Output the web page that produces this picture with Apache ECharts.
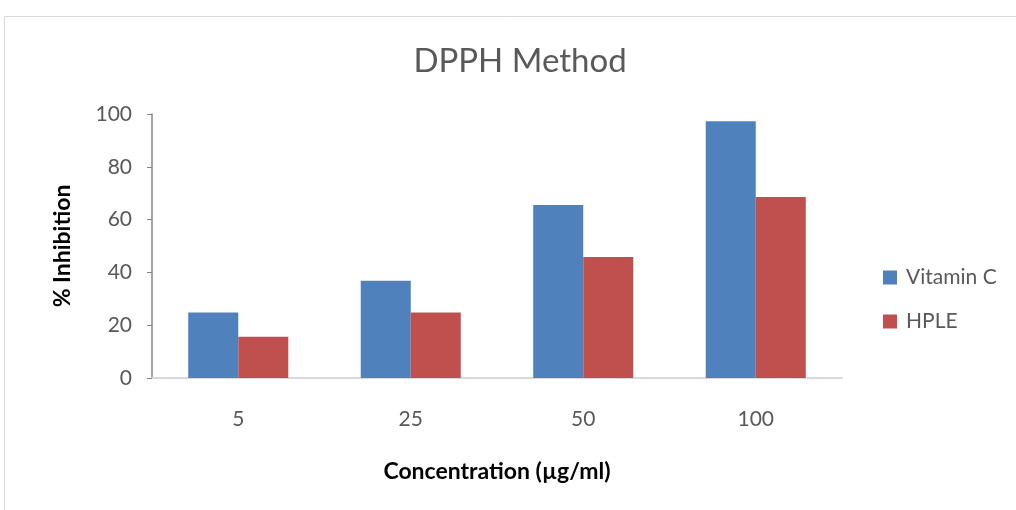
<!DOCTYPE html>
<html>
<head>
<meta charset="utf-8">
<script src="https://cdn.jsdelivr.net/npm/echarts@6/dist/echarts.min.js"></script>
<style>
  html, body { margin: 0; padding: 0; background: #fff; }
  #main { width: 1016px; height: 510px; }
</style>
</head>
<body>
<div id="main"></div>
<script>
// chart data
var concentrations = ['5', '25', '50', '100'];
var vitaminC = [24.8, 36.8, 65.5, 97.3];
var hple = [15.6, 24.8, 45.8, 68.6];
var seriesNames = ['Vitamin C', 'HPLE'];

var font = 'Lato, "Open Sans", sans-serif';
var myChart = echarts.init(document.getElementById('main'));

var option = {
  backgroundColor: '#fff',
  animation: false,
  title: {
    text: 'DPPH Method',
    left: 515,
    top: 40,
    textAlign: 'center',
    textStyle: { fontFamily: font, fontSize: 33, fontWeight: 'normal', color: '#595959' }
  },
  graphic: [{
    type: 'rect',
    shape: { x: 4.5, y: 16.5, width: 1200, height: 700 },
    style: { fill: 'none', stroke: '#d9d9d9', lineWidth: 1 },
    silent: true
  }],
  legend: {
    orient: 'vertical',
    left: 883,
    top: 267,
    padding: 0,
    itemWidth: 14,
    itemHeight: 14,
    itemGap: 23,
    icon: 'rect',
    data: seriesNames,
    textStyle: { fontFamily: font, fontSize: 21, color: '#595959', padding: [0, 0, 0, 4] }
  },
  grid: { left: 152, right: 174, top: 114, bottom: 132 },
  xAxis: {
    type: 'category',
    data: concentrations,
    name: 'Concentration (µg/ml)',
    nameLocation: 'middle',
    nameGap: 82,
    nameTextStyle: { fontFamily: font, fontSize: 23, fontWeight: 'bold', color: '#000' },
    axisLine: { lineStyle: { color: '#d9d9d9', width: 2 } },
    axisTick: { show: false },
    axisLabel: { fontFamily: font, fontSize: 21, color: '#595959', margin: 31 }
  },
  yAxis: {
    type: 'value',
    min: 0,
    max: 100,
    interval: 20,
    name: '% Inhibition',
    nameLocation: 'middle',
    nameGap: 78,
    nameTextStyle: { fontFamily: font, fontSize: 23, fontWeight: 'bold', color: '#000' },
    axisLine: { show: true, lineStyle: { color: '#868686', width: 1.5 } },
    axisTick: { show: true, length: 5, lineStyle: { color: '#868686' } },
    splitLine: { show: false },
    axisLabel: { fontFamily: font, fontSize: 21, color: '#595959', margin: 20 }
  },
  series: [
    {
      name: seriesNames[0],
      type: 'bar',
      data: vitaminC,
      barGap: '0%',
      barCategoryGap: '42%',
      itemStyle: { color: '#4f81bd' }
    },
    {
      name: seriesNames[1],
      type: 'bar',
      data: hple,
      itemStyle: { color: '#c0504d' }
    }
  ]
};

option && myChart.setOption(option);
</script>
</body>
</html>
